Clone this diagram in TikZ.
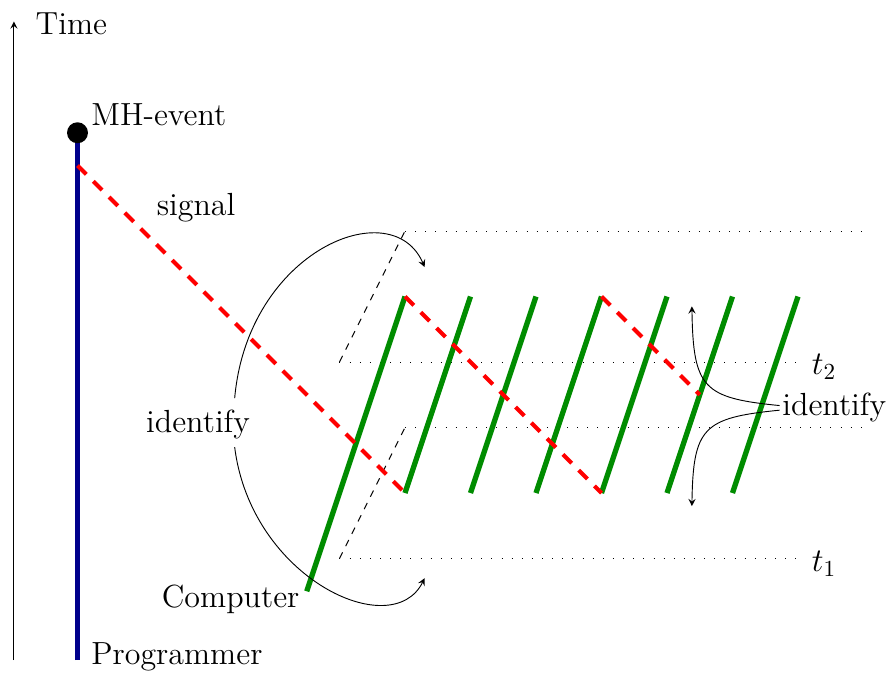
\documentclass[tikz,border=0pt]{standalone}
\usepackage{tikz}
\usepackage{amsmath}
\tikzset{epais/.style={line width=2.3pt},
	lab/.style={inner sep=1pt}}
\newcommand{\worldline}[2]{\draw[epais, green!55!black] (#1,#2) --++ (1,3)}
\newcommand{\ray}[3]{\draw[line width=1.8pt, red, dash pattern=on 5.4pt off 4.3pt] (#1,#2) --++ (#3,-#3)}
\newcommand{\slice}[2]{\draw[loosely dotted] (#1,#2) --++ (7.1,0);
	\draw[loosely dotted] (#1+1,#2+2) --++ (7.1,0);
	\draw[dashed] (#1,#2) --++ (1,2)}

\begin{document}
\begin{tikzpicture}[font=\fontsize{13.9}{16}\selectfont, >=stealth]
	\useasboundingbox (-6.183,-2.779) rectangle (7.374,7.527);
	\draw[->] (-5.97,-2.55) -- (-5.97,7.2);
	\draw[line width=1.8pt, blue!55!black] (-5,-2.55) -- (-5,5.5);
	\fill (-5,5.5) circle (0.16);
	\slice{-1}{-1};
	\slice{-1}{2};
	\draw[epais, green!55!black] (-1.5,-1.5) -- (0,3);
	\worldline{0}{0};
	\worldline{1}{0};
	\worldline{2}{0};
	\worldline{3}{0};
	\worldline{4}{0};
	\worldline{5}{0};
	\ray{-5}{5}{5};
	\ray{0}{3}{3};
	\ray{3}{3}{1.5};
	\node[lab, anchor=west] (time) at (-5.68,7.16) {Time};
	\node[lab, anchor=west] (mh) at (-4.83,5.77) {MH-event};
	\node[lab, anchor=west] (prog) at (-4.83,-2.5) {Programmer};
	\node[lab] (sig) at (-3.19,4.35) {signal};
	\node[lab] (idl) at (-3.16,1.04) {identify};
	\node[lab, anchor=east] (comp) at (-1.57,-1.63) {Computer};
	\node[lab, anchor=west] (idr) at (5.72,1.3) {identify};
	\node[lab, anchor=west] (tb) at (6.17,1.92) {$t_2$};
	\node[lab, anchor=west] (ta) at (6.17,-1.08) {$t_1$};
	\coordinate (lt) at (-2.6,1.45);
	\coordinate (lb) at (-2.6,0.7);
	\coordinate (ltend) at (0.3,3.45);
	\coordinate (lbend) at (0.3,-1.3);
	\coordinate (ru) at (4.38,2.85);
	\coordinate (rd) at (4.38,-0.2);
	\draw[->] (lt) .. controls (-2.4,3.7) and (-0.2,4.6) .. (ltend);
	\draw[->] (lb) .. controls (-2.35,-1.3) and (-0.2,-2.3) .. (lbend);
	\draw[->] ([yshift=1pt]idr.west) .. controls (4.55,1.45) and (4.4,1.6) .. (ru);
	\draw[->] ([yshift=-1pt]idr.west) .. controls (4.55,1.15) and (4.4,1.0) .. (rd);
\end{tikzpicture}
\end{document}
